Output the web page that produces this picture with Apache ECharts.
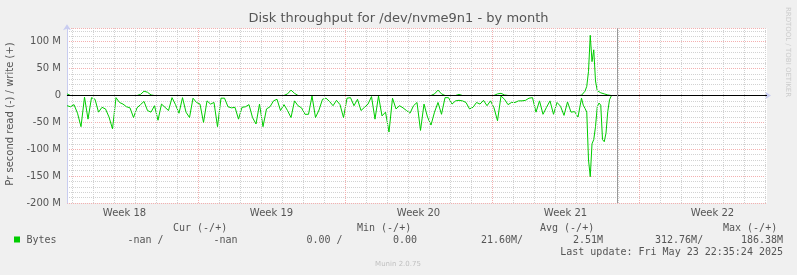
<!DOCTYPE html>
<html>
<head>
<meta charset="UTF-8">
<title>Disk throughput for /dev/nvme9n1 - by month</title>
<style type="text/css">
html,body{margin:0;padding:0;background:#f0f0f0;}
#main{width:797px;height:275px;}
</style>
</head>
<body>
<div id="main"></div>
<script src="https://cdn.jsdelivr.net/npm/echarts@6/dist/echarts.min.js"></script>
<script type="text/javascript">
// x is in hours counted from Sun Apr 27 2025 00:00
var viewStart = 18.3, viewEnd = 818.3;
var nowHour = 646.6; // Fri May 23 22:35
var weekLabels = ['Week 18', 'Week 19', 'Week 20', 'Week 21', 'Week 22'];
var weekMid = [84, 252, 420, 588, 756];

// read (-) and write (+), M bytes/s, 4 hour steps from viewStart
var readMain = [-19,-21,-17,-33,-58,-3,-44,-4,-7,-31,-22,-25,-40,-62,-4,-13,-16,-21,-23,-41,
  -23,-17,-11,-28,-31,-19,-46,-16,-22,-28,-4,-17,-33,-4,-31,-41,-5,-13,-16,-50,
  -10,-16,-13,-58,-5,-5,-21,-23,-22,-44,-22,-21,-17,-41,-53,-16,-58,-25,-21,-10,
  -7,-28,-17,-28,-41,-10,-19,-23,-35,-35,-1,-41,-27,-7,-5,-11,-19,-9,-17,-41,
  -5,-4,-19,-7,-28,-22,-16,-2,-44,-1,-38,-31,-68,-5,-25,-19,-23,-28,-33,-19,
  -13,-65,-16,-40,-55,-31,-13,-35,-4,-4,-16,-10,-9,-10,-13,-25,-22,-13,-16,-9,
  -19,-10,-23,-47,-1,-7,-17,-13,-13,-10,-10,-9,-5,-4,-31,-10,-35,-22,-10,-35,
  -13,-20,-37,-12,-31,-30,-40];
var writeMain = [3,0,0,0,0,0,0,0,0,0,0,0,0,0,0,0,0,0,0,0,
  0,2,8,6,1,0,0,0,0,0,0,0,0,0,0,0,0,0,0,0,
  0,0,0,0,0,0,0,0,0,0,0,0,0,0,0,0,0,0,0,0,
  0,0,0,3,10,4,0,0,0,0,0,0,0,0,0,0,0,0,0,0,
  0,0,0,0,0,0,0,0,0,0,0,0,0,0,0,0,0,0,0,0,
  0,0,0,0,0,3,10,3,0,0,0,0,2,0,0,0,0,0,0,0,
  0,0,0,3,4,1,0,0,0,0,0,0,0,0,0,0,0,0,0,0,
  0,0,0,0,0,0,0];
// last day, 2 hour steps
var readTail = [-5,-18,-24,-31,-120,-151,-90,-82,-58,-21,-14,-18,-82,-86,-70,-30,-8,-1];
var writeTail = [0.5,2,8,17,45,112,63,85,27,9,6,5,4,3,2,1,0.5,0];

function toPairs(main, tail) {
  var out = [];
  for (var i = 0; i < main.length; i++) out.push([viewStart + 4 * i, main[i]]);
  var t0 = viewStart + 4 * main.length;
  for (var k = 0; k < tail.length; k++) out.push([t0 + 2 * k, tail[k]]);
  return out;
}

// grid lines: every midnight, red on sundays
var dayLines = [], weekLines = [];
for (var h = 24; h < viewEnd; h += 24) {
  if (h % 168 === 0) weekLines.push({xAxis: h});
  else dayLines.push({xAxis: h});
}

var green = '#00cc00';
var axisBlue = '#c8ccf0';
var minorGrid = '#d2d2d2';
var majorGrid = '#f4b0b0';
var mono = 'DejaVu Sans Mono';

var myChart = echarts.init(document.getElementById('main'));
var option = {
  backgroundColor: '#f0f0f0',
  animation: false,
  grid: {left: 67, right: 30, top: 28.3, bottom: 72, show: true, backgroundColor: '#ffffff', borderWidth: 0},
  xAxis: {
    type: 'value', min: viewStart, max: viewEnd,
    axisLine: {show: true, lineStyle: {color: axisBlue, width: 1}, symbol: ['none', 'arrow'], symbolSize: [6, 6], symbolOffset: [0, 4]},
    axisTick: {show: false},
    splitLine: {show: false},
    axisLabel: {
      customValues: weekMid, margin: 5, color: '#555', fontFamily: 'DejaVu Sans', fontSize: 10,
      formatter: function (v) { return weekLabels[weekMid.indexOf(v)] || ''; }
    }
  },
  yAxis: [{
    type: 'value', min: -200, max: 125, interval: 10, z: 0,
    axisLine: {show: false}, axisTick: {show: false}, axisLabel: {show: false},
    splitLine: {show: true, lineStyle: {color: minorGrid, type: [1, 1], width: 1}}
  }, {
    type: 'value', min: -200, max: 125, interval: 50, position: 'left', z: 1,
    axisLine: {show: true, lineStyle: {color: axisBlue, width: 1}, symbol: ['none', 'arrow'], symbolSize: [6, 6], symbolOffset: [0, 4]},
    axisTick: {show: false},
    axisLabel: {
      color: '#555', fontFamily: 'DejaVu Sans', fontSize: 10, margin: 6,
      formatter: function (v) { if (v > 100) return ''; return v === 0 ? '0' : v + ' M'; }
    },
    splitLine: {show: true, lineStyle: {color: majorGrid, type: [1, 1], width: 1}}
  }],
  series: [{
    name: 'grid', type: 'line', data: [], z: 1, silent: true,
    markLine: {
      silent: true, symbol: ['none', 'none'], label: {show: false},
      lineStyle: {color: minorGrid, type: [1, 1], width: 1},
      data: dayLines.concat(weekLines.map(function (d) {
        return {xAxis: d.xAxis, lineStyle: {color: majorGrid, type: [1, 1], width: 1}};
      }))
    }
  }, {
    name: 'read', type: 'line', yAxisIndex: 1, z: 3, showSymbol: false,
    lineStyle: {color: green, width: 1}, itemStyle: {color: green},
    data: toPairs(readMain, readTail)
  }, {
    name: 'write', type: 'line', yAxisIndex: 1, z: 2, showSymbol: false,
    lineStyle: {color: green, width: 1}, itemStyle: {color: green},
    data: toPairs(writeMain, writeTail)
  }, {
    name: 'rules', type: 'line', yAxisIndex: 1, data: [], z: 4, silent: true,
    markLine: {
      silent: true, symbol: ['none', 'none'], label: {show: false},
      data: [
        {yAxis: 0, lineStyle: {color: '#000000', type: 'solid', width: 1}},
        {xAxis: nowHour, lineStyle: {color: '#999999', type: 'solid', width: 1}}
      ]
    }
  }],
  graphic: [
    {type: 'text', left: 'center', top: 12, style: {text: 'Disk throughput for /dev/nvme9n1 - by month', fill: '#555', font: '13px "DejaVu Sans"'}},
    {type: 'text', x: 10.5, y: 114, rotation: Math.PI / 2, style: {text: 'Pr second read (-) / write (+)', fill: '#555', font: '10px "DejaVu Sans"', textAlign: 'center', textVerticalAlign: 'middle'}},
    {type: 'text', x: 788, y: 52, rotation: -Math.PI / 2, style: {text: 'RRDTOOL / TOBI OETIKER', fill: '#cccccc', font: '7px "DejaVu Sans"', textAlign: 'center', textVerticalAlign: 'middle'}},
    {type: 'text', x: 173, y: 228, style: {text: 'Cur (-/+)', fill: '#555', font: '10px "' + mono + '"', textVerticalAlign: 'middle'}},
    {type: 'text', x: 357, y: 228, style: {text: 'Min (-/+)', fill: '#555', font: '10px "' + mono + '"', textVerticalAlign: 'middle'}},
    {type: 'text', x: 540, y: 228, style: {text: 'Avg (-/+)', fill: '#555', font: '10px "' + mono + '"', textVerticalAlign: 'middle'}},
    {type: 'text', x: 723, y: 228, style: {text: 'Max (-/+)', fill: '#555', font: '10px "' + mono + '"', textVerticalAlign: 'middle'}},
    {type: 'rect', shape: {x: 14, y: 236.5, width: 6, height: 6}, style: {fill: green}},
    {type: 'text', x: 26.5, y: 240, style: {text: 'Bytes', fill: '#555', font: '10px "' + mono + '"', textVerticalAlign: 'middle'}},
    {type: 'text', x: 127.5, y: 240, style: {text: '-nan /', fill: '#555', font: '10px "' + mono + '"', textVerticalAlign: 'middle'}},
    {type: 'text', x: 213.5, y: 240, style: {text: '-nan', fill: '#555', font: '10px "' + mono + '"', textVerticalAlign: 'middle'}},
    {type: 'text', x: 306.5, y: 240, style: {text: '0.00 /', fill: '#555', font: '10px "' + mono + '"', textVerticalAlign: 'middle'}},
    {type: 'text', x: 393, y: 240, style: {text: '0.00', fill: '#555', font: '10px "' + mono + '"', textVerticalAlign: 'middle'}},
    {type: 'text', x: 481, y: 240, style: {text: '21.60M/', fill: '#555', font: '10px "' + mono + '"', textVerticalAlign: 'middle'}},
    {type: 'text', x: 573, y: 240, style: {text: '2.51M', fill: '#555', font: '10px "' + mono + '"', textVerticalAlign: 'middle'}},
    {type: 'text', x: 655, y: 240, style: {text: '312.76M/', fill: '#555', font: '10px "' + mono + '"', textVerticalAlign: 'middle'}},
    {type: 'text', x: 741, y: 240, style: {text: '186.38M', fill: '#555', font: '10px "' + mono + '"', textVerticalAlign: 'middle'}},
    {type: 'text', x: 783, y: 252, style: {text: 'Last update: Fri May 23 22:35:24 2025', fill: '#555', font: '10px "' + mono + '"', textAlign: 'right', textVerticalAlign: 'middle'}},
    {type: 'text', x: 398, y: 264, style: {text: 'Munin 2.0.75', fill: '#c0c0c0', font: '7px "DejaVu Sans"', textAlign: 'center', textVerticalAlign: 'middle'}}
  ]
};
myChart.setOption(option);
</script>
</body>
</html>
